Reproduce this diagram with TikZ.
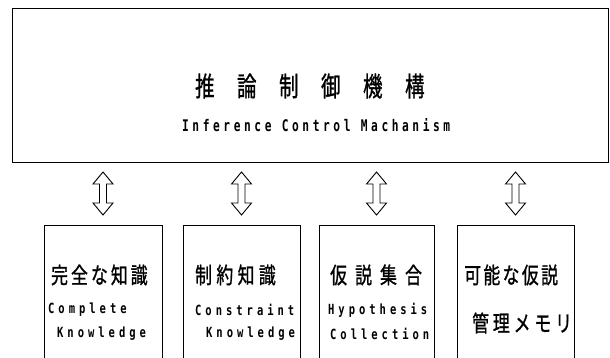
\documentclass[tikz,border=0pt]{standalone}
\usepackage{fontspec}
\newfontfamily\jp{Noto Sans CJK JP}[FakeBold=1.2]
\newfontfamily\en{DejaVu Sans Mono}
\tikzset{
  frame/.style={draw, line width=1pt, inner sep=0pt, anchor=north west},
  lbox/.style={frame, minimum width=#1, minimum height=150pt},
  jtitle/.style={inner sep=0pt, anchor=west, xscale=0.72, transform shape, font={\fontsize{27}{27}\jp\addfontfeatures{LetterSpace=116}}},
  etitle/.style={inner sep=0pt, anchor=west, xscale=0.7, transform shape, font={\fontsize{16}{16}\en\bfseries\addfontfeatures{LetterSpace=32}}},
  jlab/.style={inner sep=0pt, anchor=west, xscale=0.75, transform shape, font={\fontsize{22.5}{22.5}\jp\addfontfeatures{LetterSpace=#1}}},
  elab/.style={inner sep=0pt, anchor=west, xscale=0.75, transform shape, font={\fontsize{14}{14}\en\bfseries\addfontfeatures{LetterSpace=38}}},
  hollow/.style={draw, line width=0.9pt, line join=miter, fill=white},
  dblarr/.pic={\draw[hollow] (0,-21.5) -- (10,-9.5) -- (3.5,-9.5) -- (3.5,9.5) -- (10,9.5) -- (0,21.5) -- (-10,9.5) -- (-3.5,9.5) -- (-3.5,-9.5) -- (-10,-9.5) -- cycle;}
}
\begin{document}
\begin{tikzpicture}[x=1pt,y=-1pt]
\useasboundingbox (0,0) rectangle (610,358);
% top box
\node[frame, minimum width=596pt, minimum height=154pt] (ctrl) at (12,8) {};
\node[jtitle] (ttl) at (195,86) {推論制御機構};
\node[etitle] (sub) at (182,125) {Inference Control Machanism};
% lower boxes (open at the bottom, cut by the page edge)
\node[lbox=118pt] (b1) at (44,225) {};
\node[lbox=117pt] (b2) at (183,225) {};
\node[lbox=115pt] (b3) at (319,225) {};
\node[lbox=117pt] (b4) at (457,225) {};
% labels
\node[jlab=18] (t1) at (51,275) {完全な知識};
\node[elab] (e1a) at (48,310) {Complete};
\node[elab] (e1b) at (57,334) {Knowledge};
\node[jlab=26] (t2) at (195,275) {制約知識};
\node[elab] (e2a) at (195,310) {Constraint};
\node[elab] (e2b) at (206,334) {Knowledge};
\node[jlab=48] (t3) at (330,275) {仮説集合};
\node[elab] (e3a) at (328,310) {Hypothesis};
\node[elab] (e3b) at (330,334) {Collection};
\node[jlab=14] (t4) at (464,275) {可能な仮説};
\node[jlab=23] (t5) at (472,323) {管理メモリ};
% double arrows
\coordinate (a1) at (103,193.5);
\coordinate (a2) at (241.5,193.5);
\coordinate (a3) at (376.5,193.5);
\coordinate (a4) at (515.5,193.5);
\pic at (a1) {dblarr};
\pic at (a2) {dblarr};
\pic at (a3) {dblarr};
\pic at (a4) {dblarr};
\end{tikzpicture}
\end{document}
